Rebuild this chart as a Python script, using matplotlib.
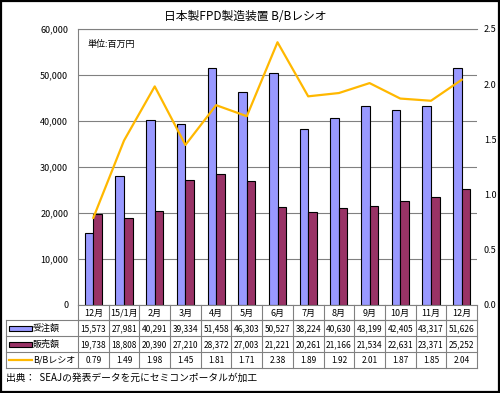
import matplotlib
matplotlib.use('Agg')
import matplotlib.pyplot as plt
from matplotlib.patches import Rectangle
import numpy as np

plt.rcParams['font.family'] = ['Noto Sans CJK JP', 'DejaVu Sans']

# data
months = ['12月', '15/1月', '2月', '3月', '4月', '5月', '6月', '7月', '8月', '9月', '10月', '11月', '12月']
orders = [15573, 27981, 40291, 39334, 51458, 46303, 50527, 38224, 40630, 43199, 42405, 43317, 51626]
sales = [19738, 18808, 20390, 27210, 28372, 27003, 21221, 20261, 21166, 21534, 22631, 23371, 25252]
bb_ratio = [0.79, 1.49, 1.98, 1.45, 1.81, 1.71, 2.38, 1.89, 1.92, 2.01, 1.87, 1.85, 2.04]

c_orders = '#9999FF'
c_sales = '#993366'
c_line = '#FFB800'
c_grid = '#808080'

W, H = 500, 393
fig = plt.figure(figsize=(W / 100, H / 100), dpi=100)

# plot area in pixels
px_l, px_r, px_t, px_b = 78, 477, 29, 305
ax = fig.add_axes([px_l / W, 1 - px_b / H, (px_r - px_l) / W, (px_b - px_t) / H])
x = np.arange(len(months))
bw = 0.28
ax.bar(x - bw / 2, orders, bw, color=c_orders, edgecolor='black', linewidth=0.8, zorder=2)
ax.bar(x + bw / 2, sales, bw, color=c_sales, edgecolor='black', linewidth=0.8, zorder=2)
ax.set_xlim(-0.5, len(months) - 0.5)
ax.set_ylim(0, 60000)
ax.set_yticks(range(0, 60001, 10000))
ax.set_yticklabels([f'{v:,}' for v in range(0, 60001, 10000)], fontsize=6.5)
ax.set_xticks([])
ax.tick_params(axis='y', length=0, pad=7)
ax.yaxis.grid(True, color=c_grid, linewidth=0.8)
ax.set_axisbelow(True)
for s in ['right']:
    ax.spines[s].set_visible(False)
ax.spines['left'].set_color(c_grid)
ax.spines['top'].set_color(c_grid)
ax.spines['bottom'].set_color(c_grid)
for s in ax.spines.values():
    s.set_linewidth(0.8)
ax.text(0.025, 0.96, '単位:百万円', transform=ax.transAxes, fontsize=6.5, va='top', ha='left')

ax2 = ax.twinx()
ax2.plot(x, bb_ratio, color=c_line, linewidth=1.6, zorder=3)
ax2.set_ylim(0, 2.5)
ax2.set_yticks(np.arange(0, 2.51, 0.5))
ax2.set_yticklabels([f'{v:.1f}' for v in np.arange(0, 2.51, 0.5)], fontsize=6.5)
ax2.tick_params(axis='y', length=0, pad=5)
for s in ax2.spines.values():
    s.set_visible(False)

fig.text(0.49, 1 - 16 / H, '日本製FPD製造装置 B/Bレシオ', ha='center', va='center', fontsize=8.5)

# data table drawn on an overlay in pixel coordinates
ov = fig.add_axes([0, 0, 1, 1])
ov.set_xlim(0, W)
ov.set_ylim(H, 0)
ov.axis('off')

col_w = (px_r - px_l) / len(months)
tab_l = 6
rows_y = [305, 320, 336, 352, 368]
lw = 0.8

# month row
ov.plot([px_l, px_r], [rows_y[1], rows_y[1]], color=c_grid, lw=lw)
for i in range(len(months) + 1):
    xx = px_l + i * col_w
    ov.plot([xx, xx], [rows_y[0], rows_y[-1]], color=c_grid, lw=lw)
for i, m in enumerate(months):
    ov.text(px_l + (i + 0.5) * col_w, (rows_y[0] + rows_y[1]) / 2 + 0.5, m,
            ha='center', va='center', fontsize=6.5)

# data rows
for yy in rows_y[1:]:
    ov.plot([tab_l, px_r], [yy, yy], color=c_grid, lw=lw)
ov.plot([tab_l, tab_l], [rows_y[1], rows_y[-1]], color=c_grid, lw=lw)

row_names = ['受注額', '販売額', 'B/Bレシオ']
row_vals = [[f'{v:,}' for v in orders], [f'{v:,}' for v in sales], [f'{v:.2f}' for v in bb_ratio]]
for r in range(3):
    yc = (rows_y[r + 1] + rows_y[r + 2]) / 2
    if r < 2:
        col = c_orders if r == 0 else c_sales
        ov.add_patch(Rectangle((9, yc - 2.5), 23, 5, facecolor=col, edgecolor='black', lw=0.8))
    else:
        ov.plot([9, 32], [yc, yc], color=c_line, lw=1.6)
    ov.text(33, yc, row_names[r], ha='left', va='center', fontsize=6.5)
    for i, v in enumerate(row_vals[r]):
        ov.text(px_l + (i + 0.5) * col_w, yc + 0.5, v, ha='center', va='center', fontsize=6)

fig.text(6 / W, 1 - 378 / H, '出典：  SEAJの発表データを元にセミコンポータルが加工',
         ha='left', va='center', fontsize=7)

# outer frame
ov.add_patch(Rectangle((1, 1), W - 2, H - 2, fill=False, edgecolor='black', lw=1.6))

fig.savefig('out.png', dpi=100)
